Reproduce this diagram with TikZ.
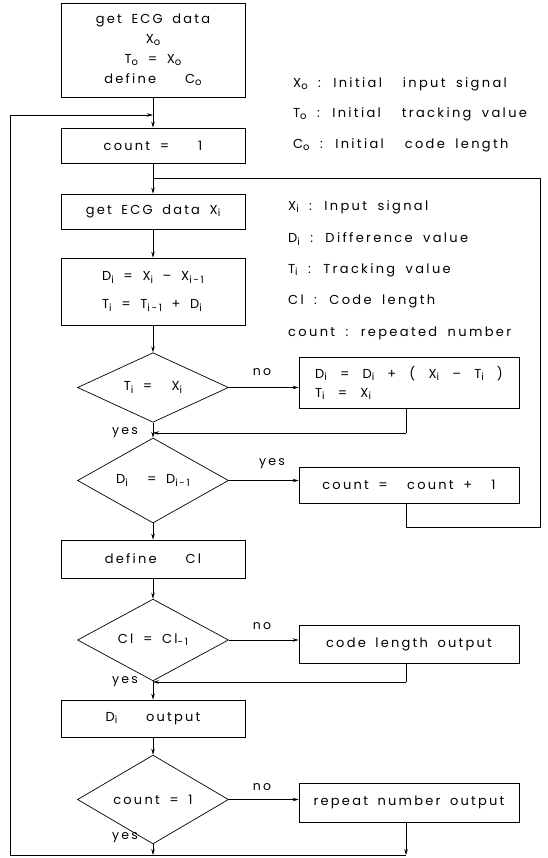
\documentclass[tikz,border=0pt]{standalone}
\usepackage{fontspec}
\setmainfont{Poppins}[LetterSpace=17, WordSpace=1.7]
\newfontfamily\legfont{Poppins}[LetterSpace=18, WordSpace=1.8]
\newfontfamily\widefont{Poppins}[LetterSpace=24, WordSpace=2]
\usetikzlibrary{shapes.geometric,arrows.meta}
\newcommand{\sbs}[1]{\raisebox{-0.3ex}{\fontsize{10}{10}\selectfont #1}}
\begin{document}
\begin{tikzpicture}[x=1pt,y=-1pt,
  every node/.style={font=\fontsize{13}{20}\selectfont, inner sep=0pt},
  box/.style={draw, line width=0.7pt, minimum width=184pt},
  rbox/.style={draw, line width=0.7pt, minimum width=220pt},
  dia/.style={draw, diamond, line width=0.7pt, minimum width=151pt, minimum height=65pt},
  lbl/.style={font=\fontsize{12.5}{12}\selectfont},
  leg/.style={anchor=west, font=\legfont\fontsize{13}{14}\selectfont},
  line/.style={line width=0.7pt},
  arr/.style={line width=0.7pt, -{Stealth[length=6pt,width=3.5pt]}}]
\useasboundingbox (0,0) rectangle (547,858);
% main column
\node[box, minimum height=94pt, align=center] (init) at (153,50) {get ECG data\\X\sbs{o}\\T\sbs{o} = X\sbs{o}\\define~~ C\sbs{o}};
\node[box, minimum height=35pt] (cnt) at (153,145.5) {count =~~ 1};
\node[box, minimum height=35pt] (get) at (153,211.5) {get ECG data X\sbs{i}};
\node[box, minimum height=67pt, align=left, font=\fontsize{13}{28}\selectfont] (dt) at (153,291.5) {D\sbs{i} = X\sbs{i} – X\sbs{i-1}\\T\sbs{i} = T\sbs{i-1} + D\sbs{i}};
\node[dia] (d1) at (153,387.5) {T\sbs{i} =~ X\sbs{i}};
\node[rbox, minimum height=51pt, align=left, font=\widefont\fontsize{13}{19}\selectfont] (fix) at (409,382.5) {D\sbs{i} = D\sbs{i} + ( X\sbs{i} – T\sbs{i} )\\T\sbs{i} = X\sbs{i}};
\node[dia] (d2) at (153,480.5) {D\sbs{i} ~= D\sbs{i-1}};
\node[rbox, minimum height=36pt] (inc) at (409,485) {count =~ count +~ 1};
\node[box, minimum height=38pt] (def) at (153,559) {define~~ Cl};
\node[dia, minimum height=64pt] (d3) at (153,640) {Cl = Cl\sbs{-1}};
\node[rbox, minimum height=38pt] (clo) at (409,644) {code length output};
\node[box, minimum height=37pt] (dout) at (153,718.5) {D\sbs{i}~~ output};
\node[dia] (d4) at (153,799.5) {count = 1};
\node[rbox, minimum height=39pt] (rep) at (409,802.5) {repeat number output};
% legend
\node[leg] (l1) at (293,84) {X\sbs{o} : Initial~ input signal};
\node[leg] (l2) at (293,114) {T\sbs{o} : Initial~ tracking value};
\node[leg] (l3) at (293,145) {C\sbs{o} : Initial~ code length};
\node[leg] (l4) at (288,207) {X\sbs{i} : Input signal};
\node[leg] (l5) at (288,239) {D\sbs{i} : Difference value};
\node[leg] (l6) at (288,270) {T\sbs{i} : Tracking value};
\node[leg] (l7) at (288,301) {Cl : Code length};
\node[leg] (l8) at (288,333) {count : repeated number};
% labels
\node[lbl] (n1) at (262,372) {no};
\node[lbl] (y1) at (125,433) {yes};
\node[lbl] (y2) at (272,464) {yes};
\node[lbl] (n3) at (262,626) {no};
\node[lbl] (y3) at (125,682) {yes};
\node[lbl] (n4) at (262,787) {no};
\node[lbl] (y4) at (125,838) {yes};
% coordinates
\coordinate (topin) at (153,115);
\coordinate (lt) at (10,115);
\coordinate (lb) at (10,855);
\coordinate (jn) at (153,178);
\coordinate (rt) at (540,178);
\coordinate (rb) at (540,527);
\coordinate (incb) at (406,527);
\coordinate (m1) at (153,433);
\coordinate (fixb) at (406,433);
\coordinate (m3) at (153,682);
\coordinate (clob) at (406,682);
\coordinate (bm) at (153,855);
\coordinate (br) at (406,855);
% connectors
\draw[arr] (init) -- (cnt);
\draw[line] (lb) -- (lt);
\draw[arr] (lt) -- (topin);
\draw[arr] (cnt) -- (get);
\draw[arr] (get) -- (dt);
\draw[arr] (dt) -- (d1);
\draw[arr] (d1.east) -- (d1.east -| fix.west);
\draw[line] (fix.south -| fixb) -- (fixb);
\draw[arr] (fixb) -- (m1);
\draw[arr] (d1.south) -- (d2.north);
\draw[arr] (d2.east) -- (d2.east -| inc.west);
\draw[line] (inc.south -| incb) -- (incb) -- (rb) -- (rt) -- (jn);
\draw[arr] (d2.south) -- (def.north);
\draw[arr] (def.south) -- (d3.north);
\draw[arr] (d3.east) -- (d3.east -| clo.west);
\draw[line] (clo.south -| clob) -- (clob);
\draw[arr] (clob) -- (m3);
\draw[arr] (d3.south) -- (dout.north);
\draw[arr] (dout.south) -- (d4.north);
\draw[arr] (d4.east) -- (d4.east -| rep.west);
\draw[arr] (rep.south -| br) -- (br);
\draw[arr] (d4.south) -- (bm);
\draw[line] (lb) -- (br);
\end{tikzpicture}
\end{document}
